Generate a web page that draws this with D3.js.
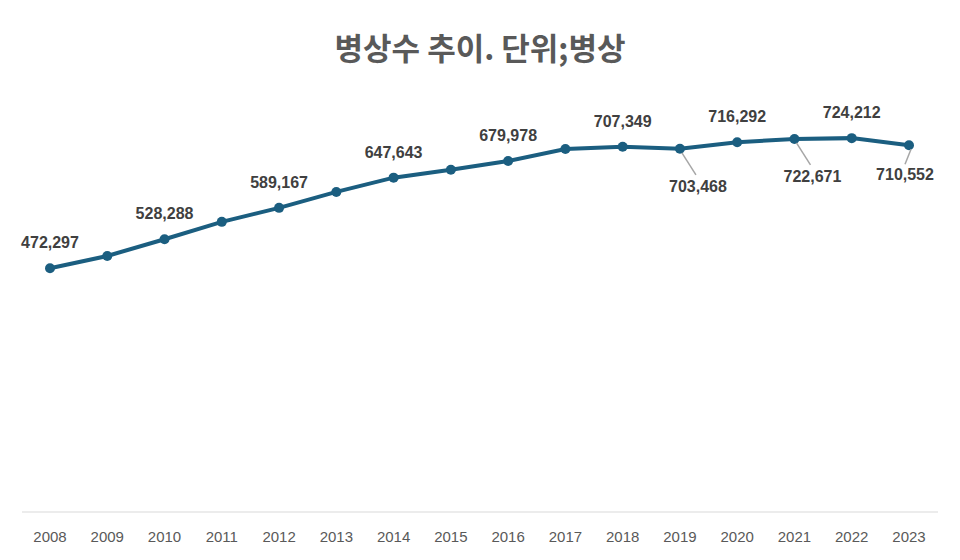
<!DOCTYPE html>
<html><head><meta charset="utf-8">
<script src="https://cdn.jsdelivr.net/npm/d3@7"></script>
<style>body{margin:0;background:#fff}</style>
</head><body>
<svg id="vis" width="960" height="560"></svg>
<script>
let years = ["2008","2009","2010","2011","2012","2013","2014","2015","2016","2017","2018","2019","2020","2021","2022","2023"];
let beds = [472297,496000,528288,562000,589167,620000,647643,663000,679978,703000,707349,703468,716292,722671,724212,710552];
let labelled = {"2008":"up","2010":"up","2012":"up","2014":"up","2016":"up","2018":"up","2019":"down","2020":"up","2021":"down","2022":"up","2023":"down"};

function draw() {
    let svg = d3.select("#vis");
    let x = d3.scalePoint().domain(years).range([50, 909]);
    let y = d3.scaleLinear().domain([0, 800000]).range([512, 99]);
    let fmt = d3.format(",");

    svg.append("text").attr("x", 480).attr("y", 60).attr("text-anchor", "middle")
        .attr("font-family", "Noto Sans CJK KR").attr("font-weight", "bold")
        .attr("font-size", 31).attr("fill", "#595959").text("병상수 추이. 단위;병상");

    svg.append("line").attr("x1", 22).attr("x2", 938).attr("y1", 512).attr("y2", 512)
        .attr("stroke", "#d9d9d9");

    svg.append("g").selectAll("text").data(years).enter().append("text")
        .attr("x", d => x(d)).attr("y", 542).attr("text-anchor", "middle")
        .attr("font-family", "Liberation Sans").attr("font-size", 15).attr("fill", "#595959")
        .text(d => d);

    let data = years.map((d, i) => ({year: d, v: beds[i]}));
    let line = d3.line().x(d => x(d.year)).y(d => y(d.v));
    svg.append("path").datum(data).attr("d", line).attr("fill", "none")
        .attr("stroke", "#1b5e80").attr("stroke-width", 4);
    svg.append("g").selectAll("circle").data(data).enter().append("circle")
        .attr("cx", d => x(d.year)).attr("cy", d => y(d.v)).attr("r", 5)
        .attr("fill", "#1b5e80");

    let lab = data.filter(d => labelled[d.year]);
    let g = svg.append("g");
    lab.forEach(d => {
        let cx = x(d.year), cy = y(d.v);
        if (labelled[d.year] == "up") {
            g.append("text").attr("x", cx).attr("y", cy - 20).attr("text-anchor", "middle")
                .attr("font-family", "Liberation Sans").attr("font-weight", "bold")
                .attr("font-size", 16).attr("fill", "#404040").text(fmt(d.v));
        } else {
            let last = d.year == "2023";
            let tx = cx + (last ? -4 : 18), ty = cy + (last ? 35 : 43);
            g.append("line").attr("x1", cx + 2).attr("y1", cy + 4)
                .attr("x2", last ? cx - 4 : cx + 16).attr("y2", last ? cy + 19 : cy + 26)
                .attr("stroke", "#a6a6a6").attr("stroke-width", 1.5);
            g.append("text").attr("x", tx).attr("y", ty).attr("text-anchor", "middle")
                .attr("font-family", "Liberation Sans").attr("font-weight", "bold")
                .attr("font-size", 16).attr("fill", "#404040").text(fmt(d.v));
        }
    });
}
document.addEventListener('DOMContentLoaded', () => { draw(); });
</script>
</body></html>
